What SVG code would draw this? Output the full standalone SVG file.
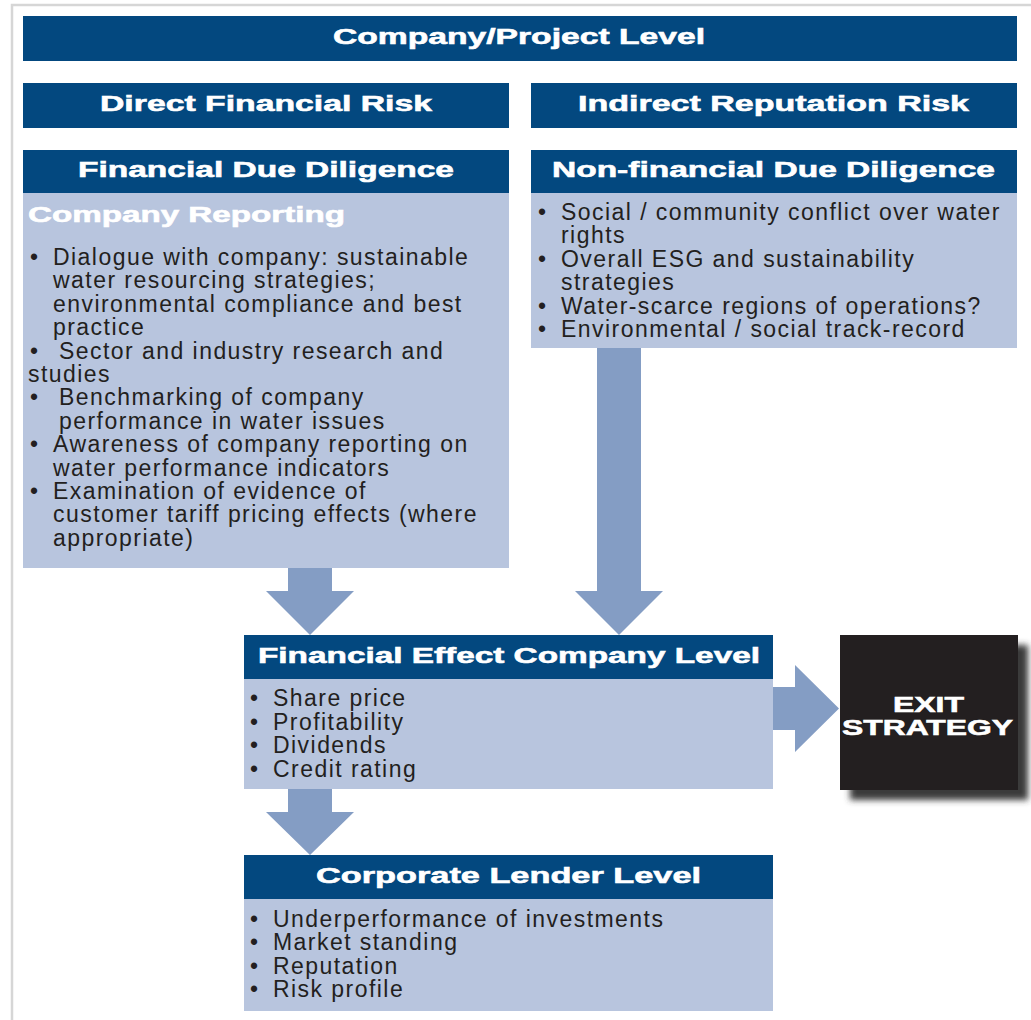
<svg xmlns="http://www.w3.org/2000/svg" width="1031" height="1020" viewBox="0 0 1031 1020">
  <style>
    .dark { fill: #03487f; }
    .light { fill: #b8c5de; }
    .arrow { fill: #849dc4; }
    .hd { font-family: "Liberation Sans", Arial, sans-serif; font-weight: bold; font-size: 22.5px; fill: #ffffff; stroke: #ffffff; stroke-width: 0.6px; }
    .bt { font-family: "Liberation Sans", Arial, sans-serif; font-size: 23px; letter-spacing: 1.45px; fill: #231f20; }
    .bl { font-family: "Liberation Sans", Arial, sans-serif; font-size: 23px; fill: #231f20; text-anchor: middle; }
  </style>
  <defs>
    <filter id="shadow" x="-20%" y="-20%" width="140%" height="140%">
      <feGaussianBlur stdDeviation="3"/>
    </filter>
  </defs>
  <rect width="1031" height="1020" fill="#ffffff"/>
  <rect x="12" y="5" width="1050" height="1050" fill="none" stroke="#d6d6d6" stroke-width="2.5"/>

  <g id="company-project-level">
    <rect class="dark" x="23" y="16" width="994" height="45"/>
    <text class="hd" x="333" y="44" textLength="372" lengthAdjust="spacingAndGlyphs">Company/Project Level</text>
  </g>

  <g id="direct-financial-risk">
    <rect class="dark" x="23" y="83" width="486" height="45"/>
    <text class="hd" x="100" y="111" textLength="332" lengthAdjust="spacingAndGlyphs">Direct Financial Risk</text>
  </g>

  <g id="indirect-reputation-risk">
    <rect class="dark" x="531" y="83" width="486" height="45"/>
    <text class="hd" x="578" y="111" textLength="391" lengthAdjust="spacingAndGlyphs">Indirect Reputation Risk</text>
  </g>

  <g id="financial-due-diligence">
    <rect class="dark" x="23" y="150" width="486" height="43"/>
    <rect class="light" x="23" y="193" width="486" height="375"/>
    <text class="hd" x="78" y="177" textLength="376" lengthAdjust="spacingAndGlyphs">Financial Due Diligence</text>
    <text class="hd" x="28" y="222" font-size="24" textLength="317" lengthAdjust="spacingAndGlyphs">Company Reporting</text>
    <text class="bl" x="34" y="265">•</text>
    <text class="bt" x="53" y="265">Dialogue with company: sustainable</text>
    <text class="bt" x="53" y="288.4">water resourcing strategies;</text>
    <text class="bt" x="53" y="311.8">environmental compliance and best</text>
    <text class="bt" x="53" y="335.2">practice</text>
    <text class="bl" x="34" y="358.6">•</text>
    <text class="bt" x="59" y="358.6">Sector and industry research and</text>
    <text class="bt" x="28" y="382">studies</text>
    <text class="bl" x="34" y="405.4">•</text>
    <text class="bt" x="59" y="405.4">Benchmarking of company</text>
    <text class="bt" x="59" y="428.8">performance in water issues</text>
    <text class="bl" x="34" y="452.2">•</text>
    <text class="bt" x="53" y="452.2">Awareness of company reporting on</text>
    <text class="bt" x="53" y="475.6">water performance indicators</text>
    <text class="bl" x="34" y="499">•</text>
    <text class="bt" x="53" y="499">Examination of evidence of</text>
    <text class="bt" x="53" y="522.4">customer tariff pricing effects (where</text>
    <text class="bt" x="53" y="545.8">appropriate)</text>
  </g>

  <g id="non-financial-due-diligence">
    <rect class="dark" x="531" y="150" width="486" height="43"/>
    <rect class="light" x="531" y="193" width="486" height="155"/>
    <text class="hd" x="552" y="177" textLength="443" lengthAdjust="spacingAndGlyphs">Non-financial Due Diligence</text>
    <text class="bl" x="542" y="220">•</text>
    <text class="bt" x="561" y="220">Social / community conflict over water</text>
    <text class="bt" x="561" y="243.4">rights</text>
    <text class="bl" x="542" y="266.8">•</text>
    <text class="bt" x="561" y="266.8">Overall ESG and sustainability</text>
    <text class="bt" x="561" y="290.2">strategies</text>
    <text class="bl" x="542" y="313.6">•</text>
    <text class="bt" x="561" y="313.6">Water-scarce regions of operations?</text>
    <text class="bl" x="542" y="337">•</text>
    <text class="bt" x="561" y="337">Environmental / social track-record</text>
  </g>

  <g id="financial-effect-company-level">
    <rect class="dark" x="244" y="635" width="529" height="44"/>
    <rect class="light" x="244" y="679" width="529" height="110"/>
    <text class="hd" x="258" y="663" textLength="502" lengthAdjust="spacingAndGlyphs">Financial Effect Company Level</text>
    <text class="bl" x="254" y="706">•</text>
    <text class="bt" x="273" y="706">Share price</text>
    <text class="bl" x="254" y="729.5">•</text>
    <text class="bt" x="273" y="729.5">Profitability</text>
    <text class="bl" x="254" y="753">•</text>
    <text class="bt" x="273" y="753">Dividends</text>
    <text class="bl" x="254" y="776.5">•</text>
    <text class="bt" x="273" y="776.5">Credit rating</text>
  </g>

  <g id="exit-strategy">
    <rect x="850" y="645" width="178" height="155" fill="#3a3a3a" filter="url(#shadow)"/>
    <rect x="840" y="635" width="178" height="155" fill="#231f20"/>
    <text class="hd" x="893" y="712" font-size="22" textLength="71" lengthAdjust="spacingAndGlyphs">EXIT</text>
    <text class="hd" x="842" y="735" font-size="22" textLength="171" lengthAdjust="spacingAndGlyphs">STRATEGY</text>
  </g>

  <g id="corporate-lender-level">
    <rect class="dark" x="244" y="855" width="529" height="44"/>
    <rect class="light" x="244" y="899" width="529" height="112"/>
    <text class="hd" x="316" y="883" textLength="385" lengthAdjust="spacingAndGlyphs">Corporate Lender Level</text>
    <text class="bl" x="254" y="927">•</text>
    <text class="bt" x="273" y="927">Underperformance of investments</text>
    <text class="bl" x="254" y="950.4">•</text>
    <text class="bt" x="273" y="950.4">Market standing</text>
    <text class="bl" x="254" y="973.8">•</text>
    <text class="bt" x="273" y="973.8">Reputation</text>
    <text class="bl" x="254" y="997.2">•</text>
    <text class="bt" x="273" y="997.2">Risk profile</text>
  </g>

  <g id="connectors">
    <polygon class="arrow" points="288,568 332,568 332,591 354,591 310,635 266,591 288,591"/>
    <polygon class="arrow" points="597,348 641,348 641,591 663,591 619,635 575,591 597,591"/>
    <polygon class="arrow" points="288,789 332,789 332,812 354,812 310,855 266,812 288,812"/>
    <polygon class="arrow" points="773,687 795,687 795,665 839,708.5 795,752 795,730 773,730"/>
  </g>
</svg>
